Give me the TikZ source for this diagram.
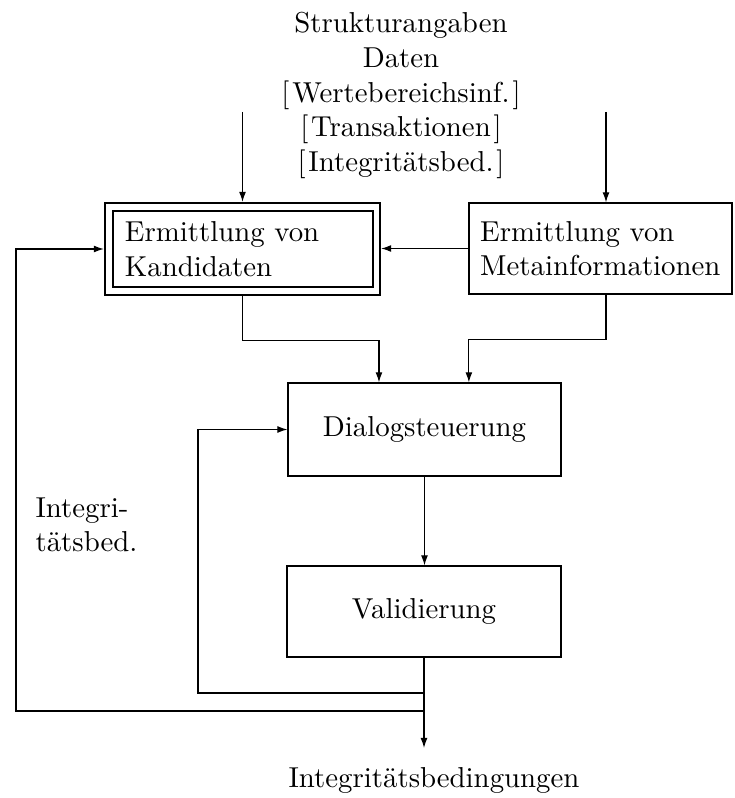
\documentclass[tikz,border=0pt]{standalone}
\usepackage{fontspec}
\usetikzlibrary{arrows.meta}
\newcommand{\bracketed}[1]{[\kern1pt#1\kern1pt]}
\begin{document}
\begin{tikzpicture}[x=0.347pt, y=-0.347pt,
  line width=0.4pt,
  conn/.style={-{Latex[length=3.5pt,width=2.4pt]}},
  plainbox/.style={draw, inner sep=0pt, align=center},
  textbox/.style={draw, align=left, inner ysep=0pt}]
\useasboundingbox (0,0) rectangle (734,798);

% input texts
\node[anchor=north, inner sep=0pt, align=center] (src) at (401,12)
  {Strukturangaben\\Daten\\\bracketed{Wertebereichsinf.}\\\bracketed{Transaktionen}\\\bracketed{Integritätsbed.}};

% candidate box with double frame
\node[textbox, line width=0.8pt, minimum width=95.4pt, minimum height=31.9pt,
      text width=81.6pt, inner xsep=6.9pt] (K) at (242.5,249)
  {Ermittlung von\\Kandidaten};
\draw[line width=0.8pt] ([shift={(9,9)}]K.north west) rectangle ([shift={(-8,-9)}]K.south east);

% meta information box
\node[textbox, minimum width=91.3pt, minimum height=31.6pt,
      text width=83.5pt, inner xsep=3.9pt] (M) at (600.5,248.5)
  {Ermittlung von\\Metainformationen};

% dialogue and validation
\node[plainbox, minimum width=94.7pt, minimum height=32.3pt] (D) at (424.5,429.5) {Dialogsteuerung};
\node[plainbox, minimum width=95.1pt, minimum height=31.6pt] (V) at (424,611.5) {Validierung};

% output
\node[anchor=base, inner sep=0pt] (out) at (434,787) {Integritätsbedingungen};
\node[anchor=north west, inner sep=0pt, align=left] (lbl) at (35,497) {Integri-\\tätsbed.};

\coordinate (s1) at (242.5,112);
\coordinate (s2) at (606,112);
\coordinate (o1) at (424,748);
\coordinate (j1) at (424,693);
\coordinate (j2) at (424,711);

% inputs
\draw[conn] (s1) -- (K.north);
\draw[conn] (s2) -- (s2 |- M.north);
\draw[conn] (M.west) -- (M.west -| K.east);

% into dialogue control
\draw[conn] (K.south) -- ++(0,44) -| ([xshift=-15.8pt]D.north);
\draw[conn] (s2 |- M.south) -- ++(0,45) -| ([xshift=15.4pt]D.north);
\draw[conn] (D.south) -- (D.south |- V.north);

% output and feedback loops
\draw[conn] (V.south) -- (o1);
\draw[conn] (j1) -- (198,693) |- (D.west);
\draw[conn] (j2) -- (16,711) |- (K.west);
\end{tikzpicture}
\end{document}
